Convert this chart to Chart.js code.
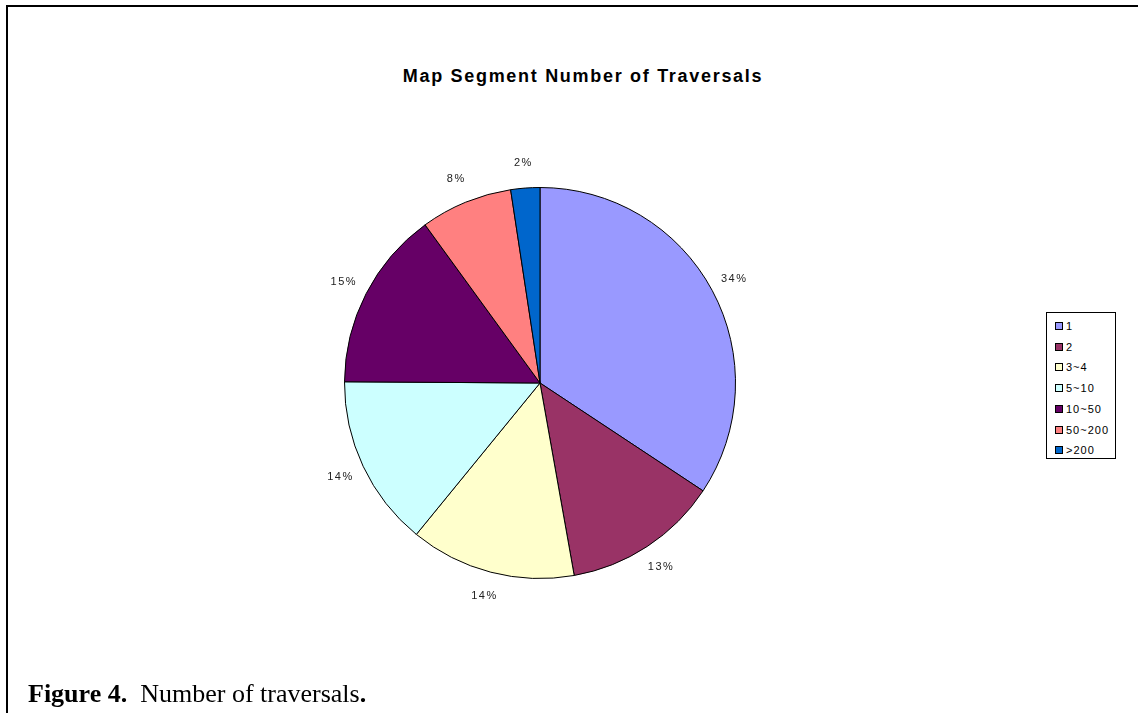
<!DOCTYPE html>
<html>
<head>
<meta charset="utf-8">
<script src="https://cdn.jsdelivr.net/npm/chart.js@4"></script>
<style>
  body { margin: 0; background: #fff; width: 1138px; height: 713px; overflow: hidden; position: relative; }
  #frame { position: absolute; left: 6px; top: 5px; width: 1140px; height: 720px; border-left: 2px solid #000; border-top: 2px solid #000; }
  #title { position: absolute; left: 0; top: 66px; width: 1166px; text-align: center; font: bold 18px Arial, "Liberation Sans", sans-serif; letter-spacing: 1.7px; color: #000; }
  #myChart { position: absolute; left: 0; top: 0; }
  #legend { position: absolute; left: 1046px; top: 312px; width: 68px; height: 145px; border: 1px solid #000; background: #fff; }
  .item { position: absolute; left: 8px; font: 11px Arial, "Liberation Sans", sans-serif; letter-spacing: 1px; color: #000; line-height: 12px; }
  .item span { display: inline-block; width: 6px; height: 6px; border: 1px solid #000; margin-right: 3px; vertical-align: 0px; }
  #caption { position: absolute; left: 28px; top: 681px; font: 26px "Times New Roman", "Liberation Serif", serif; line-height: 26px; color: #000; white-space: pre; }
</style>
</head>
<body>
<div id="frame"></div>
<div id="title">Map Segment Number of Traversals</div>
<canvas id="myChart" width="1138" height="713"></canvas>
<div id="legend"></div>
<div id="caption"><b>Figure 4.</b>  Number of traversals<b>.</b></div>
<script>
	var categories = ['1', '2', '3~4', '5~10', '10~50', '50~200', '>200'];
	var shares = [34.3, 12.9, 13.7, 14.2, 14.9, 7.6, 2.4];
	var colors = ['#9999FF', '#993366', '#FFFFCC', '#CCFFFF', '#660066', '#FF8080', '#0066CC'];

	// legend box on the right
	var legend = document.getElementById('legend');
	for (var i = 0; i < categories.length; i++) {
		var d = document.createElement('div');
		d.className = 'item';
		d.style.top = (7 + i * 20.7) + 'px';
		var sw = document.createElement('span');
		sw.style.background = colors[i];
		d.appendChild(sw);
		d.appendChild(document.createTextNode(categories[i]));
		legend.appendChild(d);
	}

	// percent labels outside the slices
	var outLabels = {
		id: 'outLabels',
		afterDatasetsDraw: function(chart) {
			var ctx = chart.ctx;
			var meta = chart.getDatasetMeta(0);
			var data = chart.data.datasets[0].data;
			var total = 0;
			for (var i = 0; i < data.length; i++) total += data[i];
			ctx.save();
			ctx.font = '11px Arial, "Liberation Sans", sans-serif';
			ctx.letterSpacing = '1.5px';
			ctx.fillStyle = '#222';
			ctx.textAlign = 'center';
			ctx.textBaseline = 'middle';
			meta.data.forEach(function(arc, i) {
				var p = arc.getProps(['x', 'y', 'startAngle', 'endAngle', 'outerRadius'], true);
				var mid = (p.startAngle + p.endAngle) / 2;
				var r = p.outerRadius + 25;
				var txt = Math.round(data[i] / total * 100) + '%';
				ctx.fillText(txt, p.x + Math.cos(mid) * r, p.y + Math.sin(mid) * r);
			});
			ctx.restore();
		}
	};

	var ctx = document.getElementById('myChart');
	var myChart = new Chart(ctx, {
		type: 'pie',
		data: {
			labels: categories,
			datasets: [{
				data: shares,
				backgroundColor: colors,
				borderColor: '#000',
				borderWidth: 1
			}]
		},
		options: {
			responsive: false,
			animation: false,
			layout: { padding: { left: 344, right: 402, top: 187, bottom: 134 } },
			plugins: {
				legend: { display: false },
				tooltip: { enabled: false }
			}
		},
		plugins: [outLabels]
	});
</script>
</body>
</html>
